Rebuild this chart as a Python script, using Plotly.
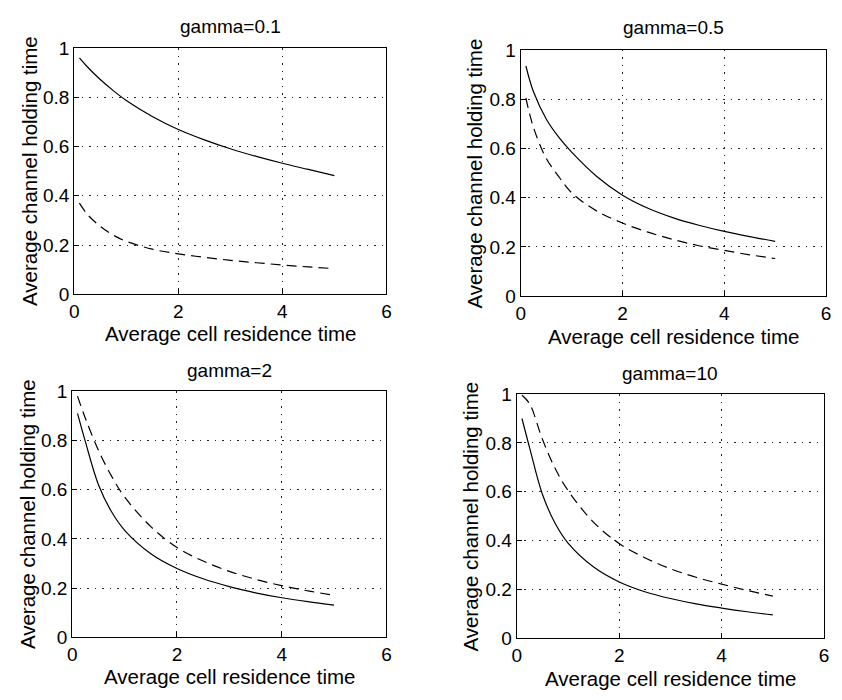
import plotly.graph_objects as go

# x sample points (average cell residence time)
x_vals = [0.1, 0.25, 0.5, 0.75, 1, 1.5, 2, 2.5, 3, 3.5, 4, 4.5, 5]

titles = ["gamma=0.1", "gamma=0.5", "gamma=2", "gamma=10"]

solid_g01 = [0.96, 0.924, 0.872, 0.827, 0.787, 0.722, 0.669, 0.627, 0.591, 0.56, 0.532, 0.507, 0.482]
dashed_g01 = [0.37, 0.325, 0.276, 0.24, 0.215, 0.183, 0.164, 0.15, 0.138, 0.128, 0.119, 0.111, 0.104]

solid_g05 = [0.935, 0.83, 0.72, 0.645, 0.585, 0.485, 0.41, 0.357, 0.318, 0.288, 0.263, 0.242, 0.223]
dashed_g05 = [0.805, 0.685, 0.56, 0.485, 0.42, 0.345, 0.297, 0.26, 0.23, 0.205, 0.186, 0.168, 0.153]

solid_g2 = [0.91, 0.795, 0.62, 0.51, 0.435, 0.34, 0.28, 0.238, 0.206, 0.181, 0.161, 0.145, 0.131]
dashed_g2 = [0.98, 0.89, 0.76, 0.655, 0.57, 0.45, 0.365, 0.31, 0.268, 0.236, 0.21, 0.189, 0.171]

solid_g10 = [0.90, 0.78, 0.59, 0.47, 0.39, 0.292, 0.231, 0.191, 0.163, 0.141, 0.124, 0.109, 0.096]
dashed_g10 = [0.995, 0.96, 0.815, 0.695, 0.605, 0.475, 0.388, 0.33, 0.285, 0.25, 0.222, 0.196, 0.173]

solid_series = [solid_g01, solid_g05, solid_g2, solid_g10]
dashed_series = [dashed_g01, dashed_g05, dashed_g2, dashed_g10]

x_ticks = [0, 2, 4, 6]
y_ticks = [0, 0.2, 0.4, 0.6, 0.8, 1]
x_title = "Average cell residence time"
y_title = "Average channel holding time"

# page body has an 8px margin: figure sized so the page fits the 842x700 window exactly
OFF = 8
W, H = 842 - 2 * OFF, 700 - 2 * OFF

def px(sx):
    return (sx - OFF) / W

def py(sy):
    return 1 - (sy - OFF) / H

# plot areas in screen pixels: (left, top, right, bottom)
areas = [(70, 39, 386, 293), (522, 41, 831, 295), (68, 393, 386, 647), (518, 396, 829, 648)]
title_y = [17, 18, 372, 375]
xtitle_y = [333, 337, 687, 689]
ytitle_x = [24, 475, 22, 471]

FONT = "Liberation Sans, Arial, Helvetica, sans-serif"

fig = go.Figure()
annotations = []
for i in range(4):
    l, t, r, b = areas[i]
    ax = "" if i == 0 else str(i + 1)
    fig.add_trace(go.Scatter(x=x_vals, y=solid_series[i], mode="lines",
                             line=dict(color="black", width=1.2, shape="spline", smoothing=1.0),
                             xaxis="x" + ax, yaxis="y" + ax, showlegend=False))
    fig.add_trace(go.Scatter(x=x_vals, y=dashed_series[i], mode="lines",
                             line=dict(color="black", width=1.2, dash="10px,6px", shape="spline", smoothing=1.0),
                             xaxis="x" + ax, yaxis="y" + ax, showlegend=False))
    axis_common = dict(showgrid=True, gridcolor="#222222", griddash="1.5px,6px", gridwidth=1,
                       showline=True, linecolor="black", linewidth=1.3, mirror=True,
                       ticks="inside", ticklen=5, tickcolor="black", zeroline=False,
                       tickfont=dict(family=FONT, size=19, color="black"))
    fig.update_layout(**{
        "xaxis" + ax: dict(domain=[px(l), px(r)], range=[0, 6], tickvals=x_ticks,
                           anchor="y" + ax, **axis_common),
        "yaxis" + ax: dict(domain=[py(b), py(t)], range=[0, 1], tickvals=y_ticks,
                           anchor="x" + ax, **axis_common),
    })
    cx = (l + r) / 2
    cy = (t + b) / 2
    annotations.append(dict(text=titles[i], x=px(cx), y=py(title_y[i]), xref="paper", yref="paper",
                            showarrow=False, xanchor="center", yanchor="middle",
                            font=dict(family=FONT, size=19, color="black")))
    annotations.append(dict(text=x_title, x=px(cx), y=py(xtitle_y[i]), xref="paper", yref="paper",
                            showarrow=False, xanchor="center", yanchor="middle",
                            font=dict(family=FONT, size=20.5, color="black")))
    annotations.append(dict(text=y_title, x=px(ytitle_x[i]), y=py(cy), xref="paper", yref="paper",
                            showarrow=False, xanchor="center", yanchor="middle", textangle=-90,
                            font=dict(family=FONT, size=20.5, color="black")))

fig.update_layout(width=W, height=H, margin=dict(l=0, r=0, t=0, b=0),
                  paper_bgcolor="white", plot_bgcolor="white", annotations=annotations)

fig.write_html("out.html")
